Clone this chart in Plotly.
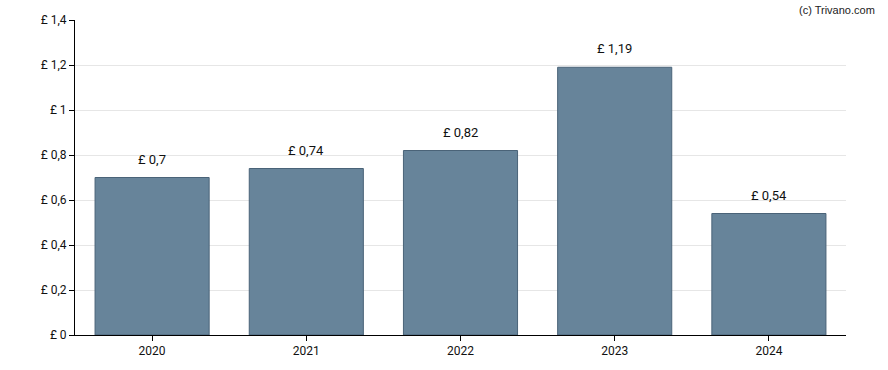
import plotly.graph_objects as go

years = ["2020", "2021", "2022", "2023", "2024"]
values = [0.70, 0.74, 0.82, 1.19, 0.54]
labels = ["£ 0,7", "£ 0,74", "£ 0,82", "£ 1,19", "£ 0,54"]
ytick_vals = [0, 0.2, 0.4, 0.6, 0.8, 1.0, 1.2, 1.4]
ytick_text = ["£ 0", "£ 0,2", "£ 0,4", "£ 0,6", "£ 0,8", "£ 1", "£ 1,2", "£ 1,4"]

xpos = list(range(len(years)))

fig = go.Figure()
fig.add_trace(go.Bar(
    x=xpos, y=values,
    marker=dict(color="#67849A", line=dict(color="#4A6378", width=1)),
    hoverinfo="skip",
))
for xp, v, t in zip(xpos, values, labels):
    fig.add_annotation(x=xp, y=v, text=t, showarrow=False, yanchor="bottom",
                       yshift=9, font=dict(family="Roboto, sans-serif", size=13, color="#111"))

fig.add_annotation(xref="paper", yref="paper", x=1.04, y=1.0, xanchor="right", yanchor="bottom",
                   yshift=2, text="(c) Trivano.com", showarrow=False,
                   font=dict(family="Liberation Sans, Arial, sans-serif", size=11, color="#222"))

fig.update_layout(
    width=888, height=370,
    margin=dict(l=75, r=42, t=20, b=35, autoexpand=False),
    paper_bgcolor="white", plot_bgcolor="white",
    bargap=0.26, showlegend=False,
    font=dict(family="Roboto, sans-serif", size=12, color="#111"),
)
fig.update_xaxes(range=[-0.5, len(years) - 0.5], tickvals=xpos, ticktext=years,
                 automargin=False, showline=True, linecolor="black",
                 linewidth=1, ticks="outside", ticklen=5, tickcolor="black", showgrid=False,
                 tickfont=dict(size=12))
fig.update_yaxes(range=[0, 1.4], tickvals=ytick_vals, ticktext=ytick_text, automargin=False,
                 showline=True, linecolor="black", linewidth=1, ticks="outside",
                 ticklen=5, tickcolor="black", showgrid=True, gridcolor="#E6E6E6",
                 zeroline=False, tickfont=dict(size=12))

fig.write_html("out.html", config={"displayModeBar": False},
               post_script="document.body.style.margin='0';")
